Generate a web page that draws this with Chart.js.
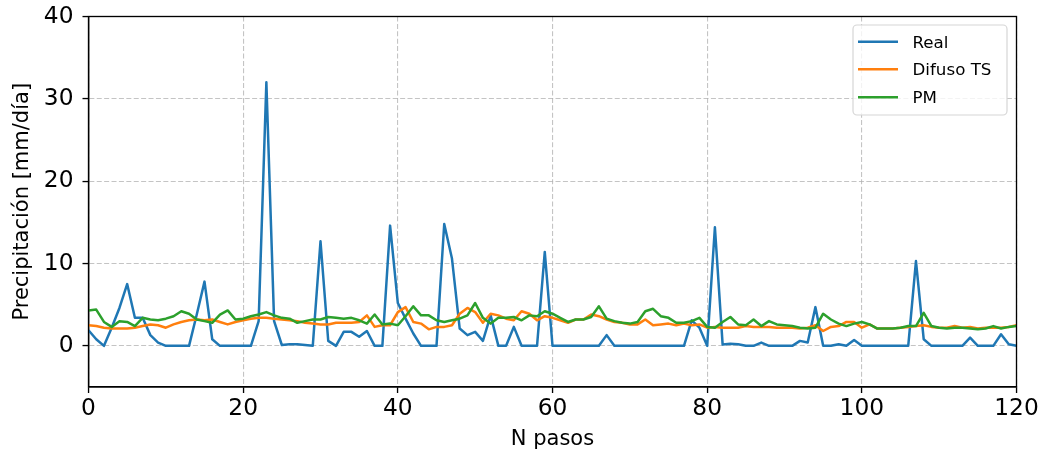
<!DOCTYPE html>
<html><head><meta charset="utf-8">
<script src="https://cdn.jsdelivr.net/npm/chart.js@4.4.0/dist/chart.umd.min.js"></script>
<style>html,body{margin:0;padding:0;background:#fff;}#wrap{width:1044px;height:457px;}</style>
</head><body><div id="wrap"><canvas id="c" width="1044" height="457"></canvas></div>
<script>
const real = [1.9,0.8,0,2.2,4.6,7.5,3.4,3.4,1.3,0.4,
  0,0,0,0,3.8,7.8,0.8,0,0,0,
  0,0,3,32,3,0.1,0.2,0.2,0.1,0,
  12.7,0.6,0,1.7,1.7,1.1,1.8,0,0,14.6,
  5.2,3.3,1.5,0,0,0,14.8,10.6,2.1,1.3,
  1.7,0.6,3.7,0,0,2.3,0,0,0,11.4,
  0,0,0,0,0,0,0,1.3,0,0,
  0,0,0,0,0,0,0,0,3.1,2.2,
  0,14.4,0.15,0.25,0.2,0,0,0.4,0,0,
  0,0,0.6,0.4,4.7,0,0,0.2,0,0.7,
  0,0,0,0,0,0,0,10.3,0.8,0,
  0,0,0,0,1.0,0,0,0,1.4,0.2,
  0];
const difuso = [2.5,2.4,2.2,2.1,2.1,2.1,2.2,2.4,2.6,2.5,
  2.2,2.6,2.9,3.1,3.2,3.1,3.2,2.9,2.6,2.9,
  3.1,3.3,3.4,3.4,3.3,3.2,3.1,3.0,2.8,2.7,
  2.6,2.6,2.8,2.8,2.8,2.9,3.7,2.3,2.5,2.5,
  4.1,4.7,2.9,2.7,2.0,2.3,2.3,2.5,3.9,4.6,
  4.1,2.8,3.9,3.7,3.3,3.1,4.2,3.9,3.1,3.6,
  3.4,3.1,2.8,3.2,3.2,3.8,3.6,3.2,2.9,2.8,
  2.6,2.6,3.2,2.5,2.6,2.7,2.5,2.7,2.5,2.6,
  2.2,2.3,2.2,2.2,2.2,2.4,2.3,2.3,2.3,2.2,
  2.2,2.2,2.1,2.2,2.5,1.8,2.3,2.4,2.9,2.9,
  2.2,2.6,2.1,2.1,2.1,2.2,2.3,2.4,2.5,2.3,
  2.2,2.2,2.4,2.2,2.3,2.1,2.2,2.2,2.2,2.3,
  2.5];
const pm = [4.3,4.4,2.9,2.3,3.0,2.9,2.4,3.4,3.2,3.1,
  3.3,3.6,4.2,3.9,3.2,3.0,2.8,3.8,4.3,3.2,
  3.3,3.6,3.8,4.1,3.7,3.4,3.3,2.8,3.0,3.2,
  3.2,3.5,3.4,3.3,3.4,3.1,2.7,3.8,2.6,2.7,
  2.5,3.6,4.8,3.7,3.7,3.1,2.9,3.1,3.3,3.7,
  5.2,3.4,2.7,3.4,3.4,3.5,3.1,3.7,3.6,4.2,
  3.9,3.4,2.9,3.2,3.2,3.5,4.8,3.3,3.0,2.8,
  2.7,2.9,4.2,4.5,3.6,3.4,2.8,2.8,3.0,3.4,
  2.3,2.2,2.9,3.5,2.6,2.5,3.2,2.4,3.0,2.6,
  2.5,2.4,2.2,2.1,2.2,3.9,3.2,2.7,2.4,2.7,
  2.9,2.6,2.1,2.1,2.1,2.2,2.4,2.4,4.0,2.4,
  2.2,2.1,2.2,2.2,2.1,2.0,2.1,2.4,2.1,2.3,
  2.4];
const seriesNames = ['Real', 'Difuso TS', 'PM'];
const seriesColors = ['#1f77b4', '#ff7f0e', '#2ca02c'];
const xTicks = [0, 20, 40, 60, 80, 100, 120];
const yTicks = [0, 10, 20, 30, 40];
const xLimits = [0, 120];
const yLimits = [-5, 40];
const xTitle = 'N pasos';
const yTitle = 'Precipitación [mm/día]';

const FONT = 'DejaVu Sans';
const toPts = arr => arr.map((v, i) => ({x: i, y: v}));

const framePlugin = {
  id: 'frame',
  afterDatasetsDraw(chart) {
    const {ctx, chartArea: a} = chart;
    ctx.save();
    ctx.strokeStyle = '#000';
    ctx.lineWidth = 1.33;
    ctx.strokeRect(a.left, a.top, a.right - a.left, a.bottom - a.top);
    ctx.restore();
  },
  afterDraw(chart) {
    const ctx = chart.ctx;
    const bx = 853, by = 25, bw = 154, bh = 90, r = 4;
    ctx.save();
    ctx.beginPath();
    ctx.moveTo(bx + r, by);
    ctx.arcTo(bx + bw, by, bx + bw, by + bh, r);
    ctx.arcTo(bx + bw, by + bh, bx, by + bh, r);
    ctx.arcTo(bx, by + bh, bx, by, r);
    ctx.arcTo(bx, by, bx + bw, by, r);
    ctx.closePath();
    ctx.fillStyle = 'rgba(255,255,255,0.8)';
    ctx.fill();
    ctx.strokeStyle = '#d6d6d6';
    ctx.lineWidth = 1.2;
    ctx.stroke();
    const ys = [41.7, 69.3, 97.3];
    chart.data.datasets.forEach((ds, i) => {
      ctx.beginPath();
      ctx.moveTo(858, ys[i]);
      ctx.lineTo(898, ys[i]);
      ctx.strokeStyle = ds.borderColor;
      ctx.lineWidth = 2.5;
      ctx.stroke();
      ctx.fillStyle = '#000';
      ctx.font = '16.7px "' + FONT + '"';
      ctx.textBaseline = 'alphabetic';
      ctx.textAlign = 'left';
      ctx.fillText(ds.label, 912.5, ys[i] + 6.1);
    });
    ctx.restore();
  }
};

const gridCommon = {
  color: 'rgba(176,176,176,0.75)',
  lineWidth: 1.1,
  tickLength: 6,
  tickColor: '#000',
  tickWidth: 1.33,
  tickBorderDash: []
};

const zeroPad = s => { s.paddingTop = 0; s.paddingBottom = 0; s.paddingLeft = 0; s.paddingRight = 0; };

new Chart(document.getElementById('c'), {
  type: 'line',
  data: {
    datasets: [
      {label: seriesNames[0], data: toPts(real), borderColor: seriesColors[0], order: 3},
      {label: seriesNames[1], data: toPts(difuso), borderColor: seriesColors[1], order: 2},
      {label: seriesNames[2], data: toPts(pm), borderColor: seriesColors[2], order: 1}
    ]
  },
  options: {
    responsive: false,
    animation: false,
    devicePixelRatio: 1,
    layout: {padding: {left: 0, right: 27.5, top: 16.5, bottom: 0}},
    elements: {
      point: {radius: 0, hoverRadius: 0},
      line: {tension: 0, borderWidth: 2.5, fill: false, borderCapStyle: 'butt', borderJoinStyle: 'round'}
    },
    plugins: {legend: {display: false}, tooltip: {enabled: false}},
    scales: {
      x: {
        type: 'linear',
        min: xLimits[0], max: xLimits[1],
        afterBuildTicks: s => { s.ticks = xTicks.map(v => ({value: v})); },
        afterFit: s => { s.height = 70; zeroPad(s); },
        ticks: {font: {family: FONT, size: 23.3}, color: '#000', padding: 2, maxRotation: 0, autoSkip: false},
        grid: gridCommon,
        border: {display: true, color: '#000', width: 1.33, dash: [5, 2.4]},
        title: {display: true, text: xTitle, font: {family: FONT, size: 21}, color: '#000', padding: {top: 0, bottom: 5}}
      },
      y: {
        type: 'linear',
        min: yLimits[0], max: yLimits[1],
        afterBuildTicks: s => { s.ticks = yTicks.map(v => ({value: v})); },
        afterFit: s => { s.width = 88.5; zeroPad(s); },
        ticks: {font: {family: FONT, size: 23.3}, color: '#000', padding: 9},
        grid: gridCommon,
        border: {display: true, color: '#000', width: 1.33, dash: [5, 2.4]},
        title: {display: true, text: yTitle, font: {family: FONT, size: 21}, color: '#000', padding: {top: 9.5, bottom: 0}}
      }
    }
  },
  plugins: [framePlugin]
});
</script></body></html>
